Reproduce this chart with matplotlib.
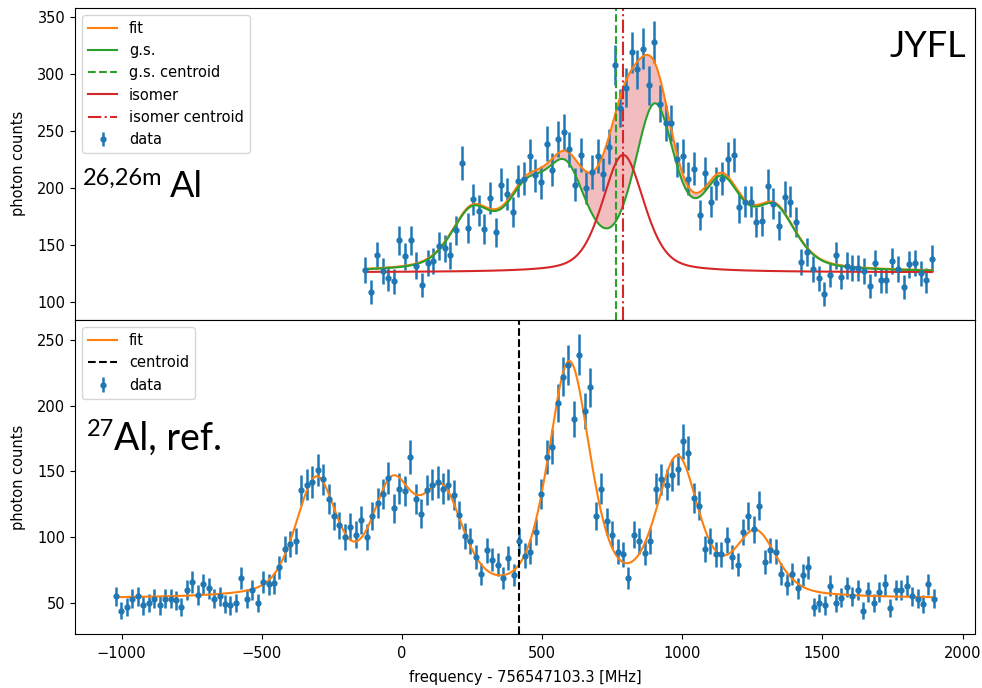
import numpy as np
import matplotlib
matplotlib.use("Agg")
import matplotlib.pyplot as plt

plt.rcParams['font.size'] = 10.5

# ---------------- 26,26mAl scan ----------------
freq_al26 = [
    -130, -110, -90, -69, -49, -29, -9, 11, 32, 52,
    72, 92, 112, 133, 153, 173, 193, 213, 234, 254,
    274, 294, 314, 335, 355, 375, 395, 415, 436, 456,
    476, 496, 516, 537, 557, 577, 597, 617, 638, 658,
    678, 698, 718, 739, 759, 779, 799, 819, 840, 860,
    880, 900, 920, 941, 961, 981, 1001, 1021, 1042, 1062,
    1082, 1102, 1122, 1143, 1163, 1183, 1203, 1223, 1244, 1264,
    1284, 1304, 1324, 1345, 1365, 1385, 1405, 1425, 1446, 1466,
    1486, 1506, 1526, 1547, 1567, 1587, 1607, 1627, 1648, 1668,
    1688, 1708, 1728, 1749, 1769, 1789, 1809, 1829, 1850, 1870,
    1890,
]
counts_al26 = [
    128, 109, 141, 127, 121, 118, 154, 140, 154, 132,
    115, 134, 136, 149, 147, 141, 163, 222, 165, 190,
    180, 164, 191, 161, 203, 195, 179, 206, 208, 228,
    211, 205, 239, 216, 243, 249, 234, 203, 229, 200,
    214, 228, 212, 236, 308, 270, 288, 319, 304, 322,
    290, 328, 274, 257, 257, 225, 228, 208, 217, 176,
    213, 188, 204, 208, 225, 229, 183, 188, 188, 170,
    171, 202, 186, 167, 192, 188, 170, 135, 144, 129,
    121, 107, 124, 141, 122, 132, 130, 130, 127, 114,
    134, 119, 119, 136, 129, 113, 133, 134, 125, 119,
    138,
]

# hyperfine components of the ground state and the isomer line
gs_centers = [250, 440, 585, 902, 1140, 1330]
gs_amps = [49, 58, 80, 140, 71, 50]
al26_background = 126
iso_center = 789
iso_amp = 103
gs_centroid = 764
iso_centroid = 789

# ---------------- 27Al reference scan ----------------
freq_al27 = [
    -1020, -1001, -981, -962, -942, -923, -903, -884, -864, -845,
    -825, -806, -787, -767, -748, -728, -709, -689, -670, -650,
    -631, -612, -592, -573, -553, -534, -514, -495, -475, -456,
    -437, -417, -398, -378, -359, -339, -320, -300, -281, -261,
    -242, -223, -203, -184, -164, -145, -125, -106, -86, -67,
    -48, -28, -9, 11, 30, 50, 69, 89, 108, 128,
    147, 166, 186, 205, 225, 244, 264, 283, 303, 322,
    342, 361, 380, 400, 419, 439, 458, 478, 497, 517,
    536, 555, 575, 594, 614, 633, 653, 672, 692, 711,
    731, 750, 769, 789, 808, 828, 847, 867, 886, 906,
    925, 944, 964, 983, 1003, 1022, 1042, 1061, 1081, 1100,
    1120, 1139, 1158, 1178, 1197, 1217, 1236, 1256, 1275, 1295,
    1314, 1333, 1353, 1372, 1392, 1411, 1431, 1450, 1470, 1489,
    1509, 1528, 1547, 1567, 1586, 1606, 1625, 1645, 1664, 1684,
    1703, 1722, 1742, 1761, 1781, 1800, 1820, 1839, 1859, 1878,
    1898,
]
counts_al27 = [
    55, 44, 47, 53, 55, 48, 50, 53, 48, 53,
    53, 52, 47, 60, 66, 56, 64, 61, 53, 55,
    49, 48, 50, 69, 53, 60, 50, 66, 64, 65,
    77, 91, 95, 97, 136, 140, 142, 151, 144, 129,
    116, 109, 100, 108, 102, 113, 100, 116, 126, 133,
    145, 122, 137, 135, 161, 129, 118, 136, 140, 142,
    137, 140, 132, 117, 101, 97, 85, 72, 90, 83,
    79, 69, 84, 71, 97, 86, 89, 104, 133, 161,
    169, 202, 222, 231, 190, 239, 196, 214, 116, 137,
    112, 102, 89, 87, 69, 102, 97, 88, 97, 137,
    144, 140, 147, 152, 173, 164, 130, 124, 91, 97,
    87, 87, 98, 85, 79, 104, 116, 106, 124, 81,
    90, 89, 72, 64, 72, 61, 71, 77, 47, 50,
    48, 63, 50, 54, 62, 55, 60, 44, 58, 50,
    58, 64, 46, 60, 60, 63, 55, 53, 49, 64,
    53,
]

ref_centers = [-305, -35, 145, 597, 983, 1262]
ref_amps = [88, 80, 73.5, 176.5, 103, 47]
al27_background = 53
ref_centroid = 417

# common line shape (pseudo-Voigt)
line_fwhm = 176.0
lorentz_frac = 0.42


def pseudo_voigt(x, center, amp):
    u = (x - center) / line_fwhm
    lor = 1.0 / (1.0 + 4.0 * u ** 2)
    gau = np.exp(-4.0 * np.log(2.0) * u ** 2)
    return amp * (lorentz_frac * lor + (1.0 - lorentz_frac) * gau)


def spectrum(x, centers, amps, background):
    y = np.full_like(x, float(background))
    for c, a in zip(centers, amps):
        y = y + pseudo_voigt(x, c, a)
    return y


x26 = np.asarray(freq_al26, float)
y26 = np.asarray(counts_al26, float)
x27 = np.asarray(freq_al27, float)
y27 = np.asarray(counts_al27, float)

xf26 = np.linspace(x26.min(), x26.max(), 1200)
gs_curve = spectrum(xf26, gs_centers, gs_amps, al26_background)
iso_curve = spectrum(xf26, [iso_center], [iso_amp], al26_background)
fit26 = gs_curve + iso_curve - al26_background

xf27 = np.linspace(x27.min(), x27.max(), 1500)
fit27 = spectrum(xf27, ref_centers, ref_amps, al27_background)

W, H = 982, 688
fig = plt.figure(figsize=(W / 100, H / 100), dpi=100)
left = 75 / W
width = (975 - 75) / W
ax1 = fig.add_axes([left, 1 - 320 / H, width, (320 - 7.5) / H])
ax2 = fig.add_axes([left, 1 - 634 / H, width, (634 - 320) / H], sharex=ax1)

err_kw = dict(fmt='.', color='C0', ms=7, elinewidth=1.8)

# top panel
ax1.errorbar(x26, y26, yerr=np.sqrt(y26), label='data', **err_kw)
ax1.plot(xf26, fit26, color='C1', label='fit')
ax1.plot(xf26, gs_curve, color='C2', label='g.s.')
ax1.axvline(gs_centroid, color='C2', ls='--', label='g.s. centroid')
ax1.plot(xf26, iso_curve, color='C3', label='isomer')
ax1.axvline(iso_centroid, color='C3', ls='-.', label='isomer centroid')
ax1.fill_between(xf26, gs_curve, fit26, color='C3', alpha=0.3, lw=0)
ax1.set_ylabel('photon counts', labelpad=8)
ax1.legend(loc='upper left')
ax1.set_ylim(84.2, 358.3)
ax1.set_yticks([100, 150, 200, 250, 300, 350])
ax1.tick_params(labelbottom=False)

# bottom panel
ax2.errorbar(x27, y27, yerr=np.sqrt(y27), label='data', **err_kw)
ax2.plot(xf27, fit27, color='C1', label='fit')
ax2.axvline(ref_centroid, color='k', ls='--', label='centroid')
ax2.set_ylabel('photon counts', labelpad=8)
ax2.set_xlabel('frequency - 756547103.3 [MHz]', labelpad=6)
ax2.legend(loc='upper left')
ax2.set_ylim(26.3, 265.3)
ax2.set_yticks([50, 100, 150, 200, 250])
ax2.set_xlim(-1166, 2044)
ax2.set_xticks([-1000, -500, 0, 500, 1000, 1500, 2000])
ax2.tick_params(axis='x', pad=5.5)


def put(x, y, s, size):
    fig.text(x / W, 1 - y / H, s, fontsize=size, family='Lato',
             ha='left', va='baseline', color='black')


put(890, 56.7, 'JYFL', 26)
put(83, 185, '26,26m', 17)
put(170, 197, 'Al', 26)
put(87, 435.5, '27', 17)
put(114, 449.3, 'Al, ref.', 27)

fig.savefig('out.png', dpi=100)
